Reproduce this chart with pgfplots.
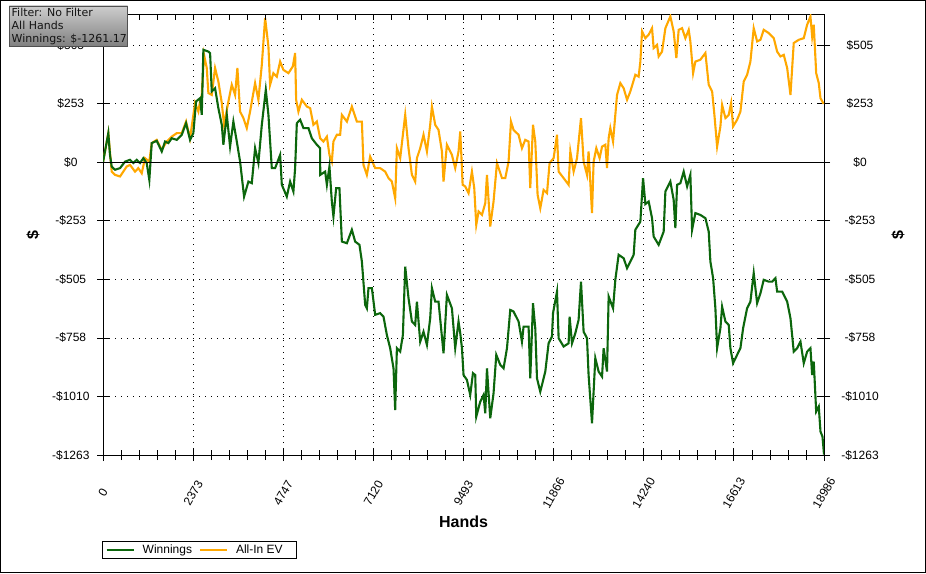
\documentclass[border=0pt]{standalone}
\usepackage{pgfplots}
\pgfplotsset{compat=1.18}
\usepackage{fontspec}
\setmainfont{Liberation Sans}
\newfontfamily\dejavu{DejaVu Sans}
\definecolor{wingreen}{RGB}{12,102,12}
\definecolor{evorange}{RGB}{255,168,0}
\definecolor{boxtop}{RGB}{205,205,205}
\definecolor{boxbot}{RGB}{128,128,128}
\begin{document}
\begin{tikzpicture}[x=1pt,y=1pt]
\useasboundingbox (0,0) rectangle (926,573);
\fill[white] (0,0) rectangle (926,573);
\begin{axis}[
  at={(103pt,118pt)}, anchor=south west,
  scale only axis, width=721pt, height=440pt,
  xmin=0, xmax=18986, ymin=-1263.17, ymax=636,
  scaled ticks=false,
  xtick={0,2373.25,4746.5,7119.75,9493,11866.25,14239.5,16612.75,18986},
  xticklabels={0,2373,4747,7120,9493,11866,14240,16613,18986},
  ytick={-1263.17,-1010.54,-757.90,-505.27,-252.63,0,252.63,505.27},
  yticklabels={-\$1263,-\$1010,-\$758,-\$505,-\$253,\$0,\$253,\$505},
  minor x tick num=4, minor y tick num=4,
  xtick pos=bottom,
  tick align=center, major tick length=12pt, minor tick length=10pt,
  tick style={black, line width=0.8pt},
  grid=major,
  major grid style={black, line width=0.8pt, dash pattern=on 1pt off 5pt},
  axis line style={black, line width=1pt},
  ticklabel style={font=\fontsize{12}{14}\selectfont, text=black},
  xticklabel style={yshift=-32pt, rotate=60, anchor=center},
  yticklabel style={anchor=east, text width=40pt, align=center, inner sep=0pt, xshift=-6pt},
  xlabel={Hands}, ylabel={\$},
  label style={font=\fontsize{16}{18}\selectfont\bfseries},
  xlabel style={at={(axis description cs:0.5,-0.1523)}, anchor=center},
  ylabel style={at={(axis description cs:-0.0971,0.5)}, anchor=center},
  legend columns=2,
  legend style={at={(axis description cs:-0.001,-0.2348)}, anchor=south west,
    draw=black, line width=0.8pt, font=\fontsize{12}{14}\selectfont,
    inner xsep=3pt, inner ysep=1pt,
    /tikz/every odd column/.append style={column sep=6pt},
    /tikz/every even column/.append style={column sep=5pt}},
  legend image code/.code={\draw[#1] (0pt,0pt) -- (27pt,0pt);},
]
\addlegendimage{wingreen, line width=2pt}
\addlegendentry{Winnings}
\addlegendimage{evorange, line width=2pt}
\addlegendentry{All-In EV\hspace*{9pt}\mbox{}}
\addplot[evorange, line width=2.1pt, forget plot] table {
0 0
140 126
229 -40
316 -54
448 -61
535 -40
624 -18
711 -11
843 -40
930 -25
1020 -47
1107 18
1220 3
1283 83
1415 97
1547 54
1678 90
1810 111
1942 126
2074 126
2187 176
2292 104
2424 256
2511 219
2556 263
2601 291
2661 464
2732 407
2775 299
2864 291
2951 407
3038 349
3128 256
3188 162
3302 263
3391 335
3478 291
3539 407
3610 219
3697 191
3786 148
3873 219
4005 342
4092 270
4182 421
4269 623
4356 500
4400 335
4487 385
4577 370
4664 435
4751 399
4883 385
4999 414
5059 472
5086 270
5146 219
5236 270
5367 241
5455 234
5541 162
5631 176
5718 104
5805 90
5895 111
5963 32
6026 3
6068 90
6157 119
6245 119
6290 205
6422 176
6553 241
6685 176
6817 176
6859 -11
6948 -54
7035 25
7167 -25
7299 -25
7431 -40
7518 -68
7607 -83
7694 -155
7739 61
7826 18
7897 119
7958 205
8045 61
8134 -54
8221 -83
8266 18
8353 61
8440 119
8530 47
8616 162
8661 241
8748 162
8835 140
8925 47
8967 -83
9056 76
9188 32
9275 -25
9362 47
9407 133
9440 18
9470 -97
9539 -104
9626 -133
9715 -40
9776 -111
9829 -270
9890 -212
9979 -227
10066 -176
10111 -54
10197 -277
10284 -169
10374 -3
10506 -68
10593 -68
10680 3
10743 176
10811 140
10943 119
11032 61
11119 97
11207 90
11251 -111
11323 162
11383 90
11444 -140
11515 -198
11602 -119
11692 -133
11760 -3
11866 18
11955 119
11998 -40
12129 -68
12261 -97
12306 47
12393 -40
12482 18
12587 191
12656 3
12745 -54
12787 47
12877 -219
12919 3
12990 61
13077 18
13141 68
13228 76
13272 -25
13315 104
13359 148
13431 90
13491 205
13536 291
13623 342
13710 320
13800 270
13886 306
14018 378
14105 370
14150 435
14195 565
14282 536
14369 551
14458 579
14500 493
14590 507
14632 457
14721 478
14809 579
14940 630
15027 565
15098 450
15159 572
15249 579
15336 536
15423 572
15467 522
15539 385
15599 435
15731 443
15863 472
15950 335
16040 306
16100 205
16171 68
16258 155
16303 248
16390 191
16477 205
16540 256
16592 155
16698 184
16785 219
16872 349
16961 378
17048 435
17135 579
17225 522
17312 529
17399 572
17531 558
17663 536
17752 478
17839 457
17926 464
18016 407
18103 291
18189 515
18321 529
18453 536
18542 594
18629 630
18674 543
18716 594
18780 385
18848 342
18893 277
18964 256
18986 257
};
\addplot[wingreen, line width=2.1pt, forget plot] table {
0 0
140 126
184 32
229 -18
316 -32
448 -25
580 3
711 11
799 -3
888 11
975 -3
1062 18
1151 -3
1220 -76
1283 83
1415 93
1547 47
1634 90
1721 83
1810 104
1942 97
2074 119
2187 169
2292 97
2379 126
2451 263
2556 277
2601 205
2643 486
2775 478
2820 471
2864 306
2951 320
3038 234
3128 162
3170 76
3260 205
3346 68
3433 176
3523 90
3610 3
3715 -148
3829 -83
3918 -90
4005 61
4092 -3
4182 162
4287 313
4356 205
4445 -25
4532 -25
4664 32
4709 -97
4840 -148
4927 -83
5014 -126
5059 -25
5104 169
5191 184
5278 148
5410 148
5499 104
5631 76
5718 61
5720 -54
5850 -40
5895 -97
5963 -18
6026 -169
6068 -234
6140 -111
6226 -111
6290 -342
6422 -349
6553 -291
6640 -342
6753 -356
6817 -428
6904 -615
6948 -630
6991 -543
7080 -543
7167 -658
7299 -651
7386 -666
7475 -745
7562 -802
7650 -889
7694 -1069
7739 -802
7826 -817
7897 -745
7958 -450
8045 -586
8134 -687
8221 -702
8266 -601
8353 -774
8440 -731
8530 -788
8616 -673
8661 -543
8748 -601
8835 -601
8967 -824
9056 -572
9188 -630
9275 -802
9362 -687
9407 -737
9452 -802
9494 -918
9583 -939
9670 -1004
9742 -910
9802 -918
9829 -1098
9934 -1033
10021 -1004
10066 -1083
10111 -889
10197 -1105
10284 -997
10356 -831
10461 -874
10548 -889
10638 -802
10724 -637
10811 -644
10943 -687
11032 -774
11075 -709
11207 -709
11251 -932
11323 -608
11383 -716
11428 -932
11515 -990
11647 -903
11734 -781
11823 -752
11850 -651
11955 -558
11998 -759
12129 -795
12261 -781
12287 -666
12350 -781
12437 -738
12524 -680
12587 -515
12656 -731
12745 -759
12787 -918
12877 -1126
12964 -845
13051 -903
13141 -925
13183 -802
13272 -903
13315 -579
13431 -630
13491 -507
13578 -399
13710 -414
13800 -457
13974 -399
14018 -291
14150 -256
14221 -68
14282 -180
14369 -169
14458 -241
14500 -320
14632 -356
14764 -299
14809 -126
14940 -83
15027 -162
15072 -284
15117 -97
15204 -90
15291 -40
15381 -104
15467 -54
15512 -291
15599 -219
15731 -227
15863 -241
15950 -299
15994 -428
16066 -500
16126 -630
16171 -802
16258 -716
16303 -623
16390 -687
16477 -702
16521 -802
16592 -867
16698 -831
16785 -802
16856 -716
16961 -630
17048 -601
17135 -478
17225 -608
17312 -565
17399 -507
17531 -515
17620 -515
17707 -500
17752 -558
17884 -558
18016 -601
18103 -673
18189 -817
18279 -802
18366 -774
18453 -867
18542 -817
18629 -802
18674 -918
18716 -860
18780 -1076
18848 -1054
18893 -1162
18946 -1184
18986 -1261.17
};
\addplot[black, line width=0.8pt, forget plot] coordinates {(0,0) (18986,0)};
\end{axis}
\begin{axis}[
  at={(103pt,118pt)}, anchor=south west,
  scale only axis, width=721pt, height=440pt,
  xmin=0, xmax=18986, ymin=-1263.17, ymax=636,
  scaled ticks=false,
  xtick={0,2373.25,4746.5,7119.75,9493,11866.25,14239.5,16612.75,18986},
  xticklabel=\empty,
  ytick={-1263.17,-1010.54,-757.90,-505.27,-252.63,0,252.63,505.27},
  yticklabels={-\$1263,-\$1010,-\$758,-\$505,-\$253,\$0,\$253,\$505},
  minor x tick num=4,
  xtick pos=top, ytick pos=right, yticklabel pos=right,
  xtick align=inside, major tick length=5pt, minor tick length=5pt,
  xtick style={black, line width=0.8pt},
  ytick style={draw=none},
  axis line style={draw=none},
  ticklabel style={font=\fontsize{12}{14}\selectfont, text=black},
  yticklabel style={xshift=36pt, anchor=center},
  ylabel={\$},
  label style={font=\fontsize{16}{18}\selectfont\bfseries},
  ylabel style={at={(axis description cs:1.1026,0.5)}, anchor=center},
]
\end{axis}
\shade[top color=boxtop, bottom color=boxbot, draw={rgb,255:red,80;green,80;blue,80}, line width=0.8pt]
  (9.3,527) rectangle (127.7,567);
\node[anchor=base west, inner sep=0, font=\dejavu\fontsize{11}{13}\selectfont, text={rgb,255:red,20;green,20;blue,20}] at (11.5,556.3) {Filter: No Filter};
\node[anchor=base west, inner sep=0, font=\dejavu\fontsize{11}{13}\selectfont, text={rgb,255:red,20;green,20;blue,20}] at (11.5,543.3) {All Hands};
\node[anchor=base west, inner sep=0, font=\dejavu\fontsize{11}{13}\selectfont, text={rgb,255:red,20;green,20;blue,20}] at (11.5,530.7) {Winnings: \$-1261.17};
\draw[black, line width=1pt] (0.5,0.5) rectangle (925.5,572.5);
\end{tikzpicture}
\end{document}
